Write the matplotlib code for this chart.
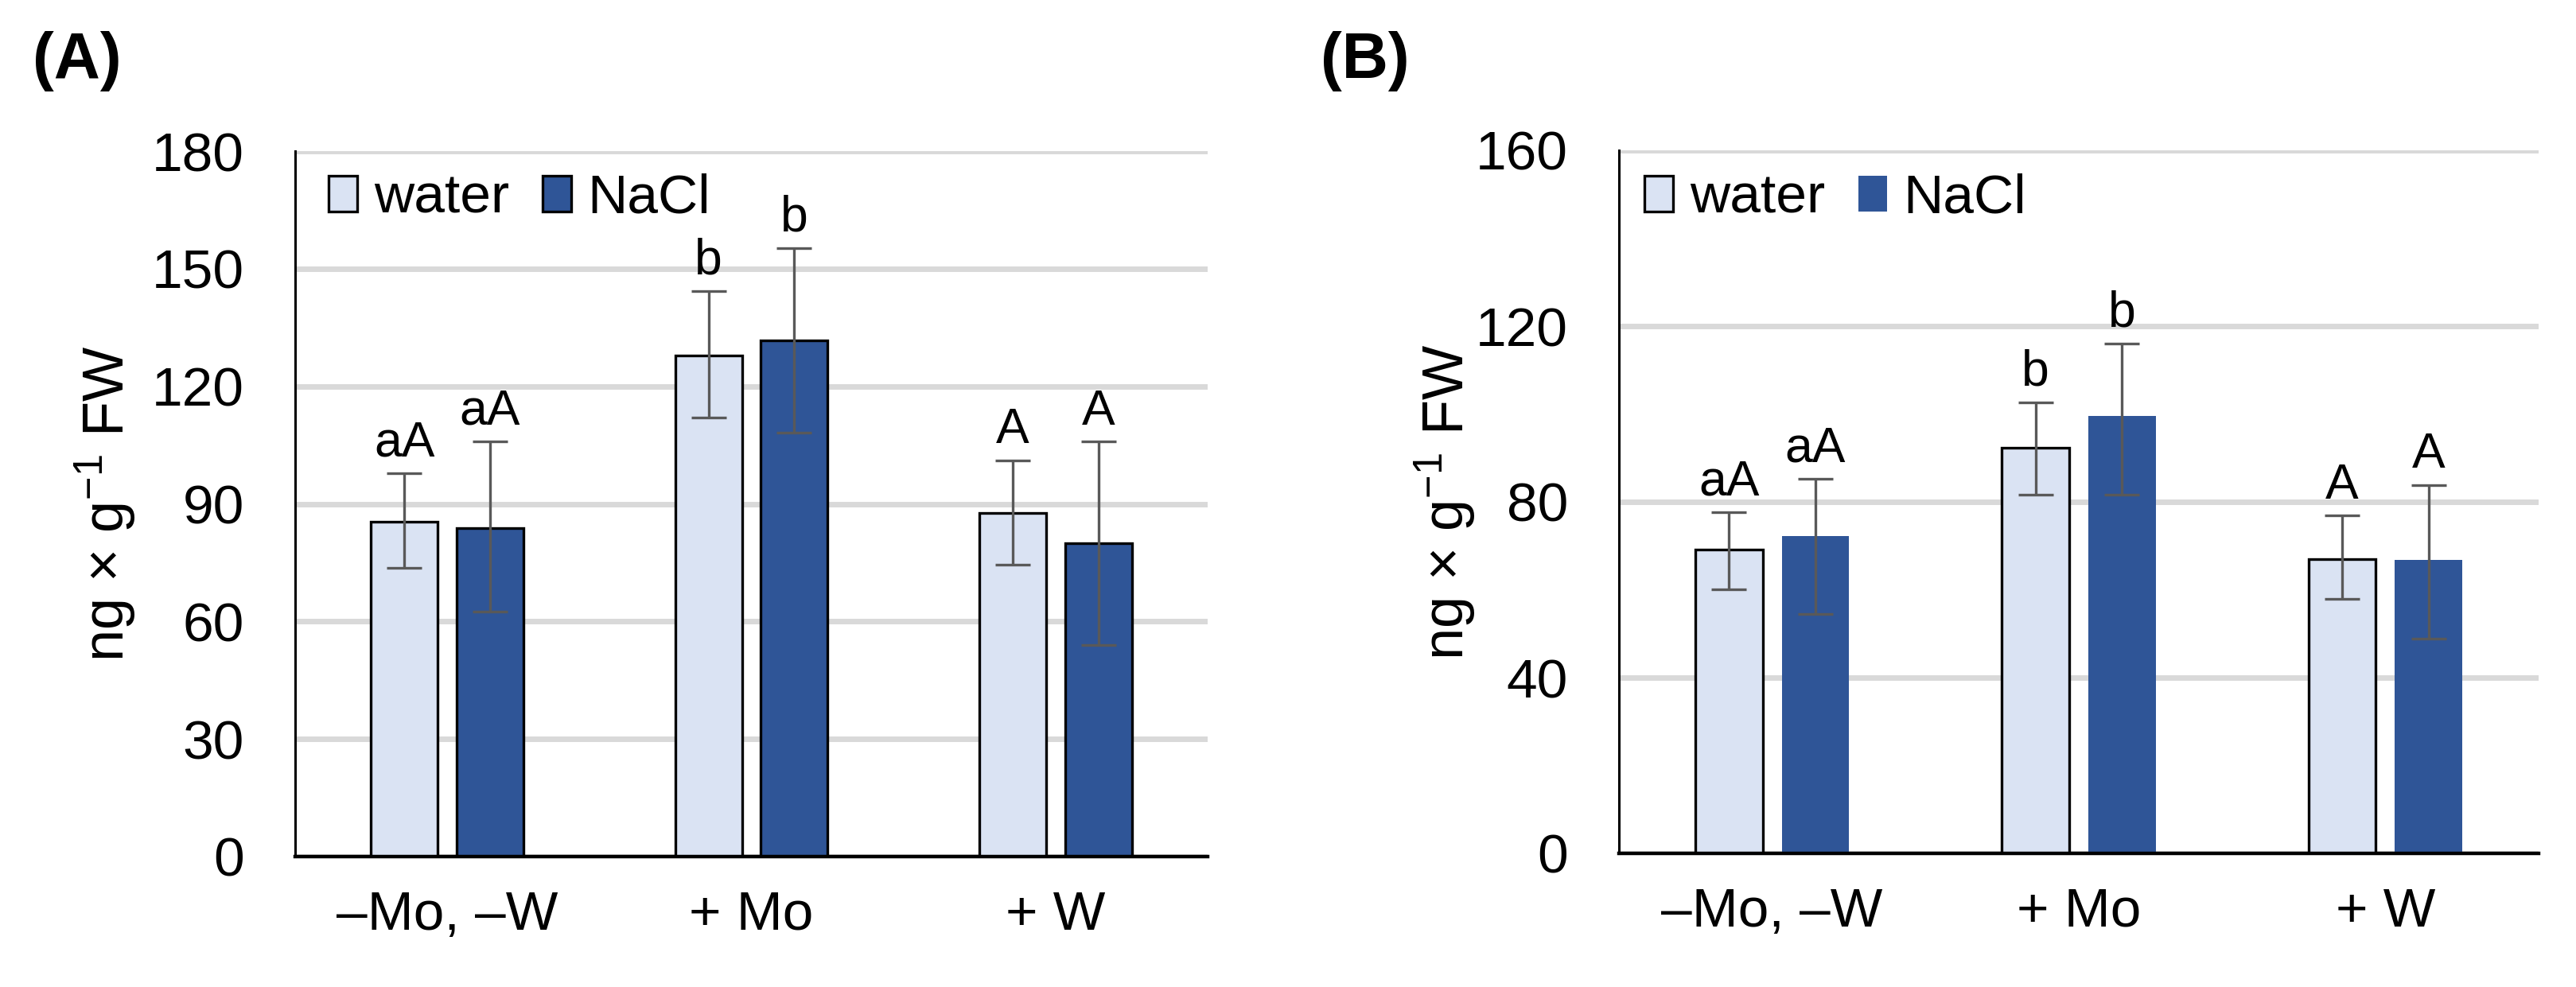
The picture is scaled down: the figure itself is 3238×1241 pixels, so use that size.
import matplotlib
matplotlib.use("Agg")
import matplotlib.pyplot as plt
import numpy as np

plt.rcParams['font.family'] = ['Liberation Sans', 'DejaVu Sans']
plt.rcParams['mathtext.fontset'] = 'custom'
plt.rcParams['mathtext.rm'] = 'Liberation Sans'
plt.rcParams['mathtext.default'] = 'regular'

categories = ["–Mo, –W", "+ Mo", "+ W"]
series = ["water", "NaCl"]

# Panel A
A_water = [85.4, 127.8, 87.7]
A_water_err_lo = [11.8, 15.7, 13.3]
A_water_err_hi = [12.5, 16.4, 13.4]
A_nacl = [83.9, 131.8, 80.0]
A_nacl_err_lo = [21.3, 23.7, 26.1]
A_nacl_err_hi = [22.0, 23.5, 25.9]
A_water_letters = ["aA", "b", "A"]
A_nacl_letters = ["aA", "b", "A"]
A_ticks = [0, 30, 60, 90, 120, 150, 180]

# Panel B
B_water = [69.2, 92.3, 67.0]
B_water_err_lo = [9.1, 10.6, 9.0]
B_water_err_hi = [8.4, 10.4, 9.9]
B_nacl = [72.2, 99.5, 66.7]
B_nacl_err_lo = [17.7, 17.8, 17.9]
B_nacl_err_hi = [13.1, 16.5, 17.1]
B_water_letters = ["aA", "b", "A"]
B_nacl_letters = ["aA", "b", "A"]
B_ticks = [0, 40, 80, 120, 160]

C_WATER = "#DAE3F3"
C_NACL = "#2F5597"
C_ERR = "#595959"
C_GRID = "#D9D9D9"

W, H = 3238, 1241
fig = plt.figure(figsize=(W / 100, H / 100), dpi=100)


def panel(rect, water, wlo, whi, nacl, nlo, nhi, wlet, nlet, ticks, nacl_edge,
          leg_xy, ylab_x, letter, letter_x):
    ax = fig.add_axes(rect)
    x = np.arange(len(categories))
    bw = 0.22
    off = 0.141
    ax.set_axisbelow(True)
    ax.bar(x - off, water, bw, color=C_WATER, edgecolor="black", linewidth=2.4,
           label=series[0], zorder=2)
    if nacl_edge:
        ax.bar(x + off, nacl, bw, color=C_NACL, edgecolor="black", linewidth=2.4,
               label=series[1], zorder=2)
    else:
        ax.bar(x + off, nacl, bw, color=C_NACL, linewidth=0, label=series[1], zorder=2)
    ekw = dict(fmt="none", ecolor=C_ERR, elinewidth=2.4, capsize=15.5, capthick=2.4, zorder=3)
    ax.errorbar(x - off, water, yerr=[wlo, whi], **ekw)
    ax.errorbar(x + off, nacl, yerr=[nlo, nhi], **ekw)
    for xi, v, e, t in zip(x - off, water, whi, wlet):
        ax.annotate(t, (xi, v + e), xytext=(0, 15.5), textcoords="offset points",
                    ha="center", va="baseline", fontsize=45)
    for xi, v, e, t in zip(x + off, nacl, nhi, nlet):
        ax.annotate(t, (xi, v + e), xytext=(0, 15.5), textcoords="offset points",
                    ha="center", va="baseline", fontsize=45)
    ax.set_xlim(-0.5, 2.5)
    ax.set_ylim(ticks[0], ticks[-1])
    ax.set_yticks(ticks)
    ax.set_xticks(x)
    ax.set_xticklabels(categories)
    ax.yaxis.grid(True, color=C_GRID, linewidth=5, zorder=0)
    ax.tick_params(axis="y", length=0, pad=46, labelsize=50)
    ax.tick_params(axis="x", length=0, pad=30, labelsize=50)
    for s in ["top", "right"]:
        ax.spines[s].set_visible(False)
    ax.spines["left"].set_linewidth(2.2)
    ax.spines["bottom"].set_linewidth(3.2)
    ax.spines["bottom"].set_zorder(4)
    ax.set_ylabel("ng × g$^{-1}$ FW", fontsize=52)
    ax.yaxis.set_label_coords(ylab_x, 0.5)
    ax.legend(loc="center left", bbox_to_anchor=leg_xy, frameon=False, fontsize=50,
              handlelength=0.52, handleheight=0.6, handletextpad=0.3, columnspacing=0.6,
              ncol=2, borderpad=0, borderaxespad=0)
    fig.text(letter_x, 1 - 98 / H, letter, fontsize=58, fontweight="bold",
             ha="left", va="baseline")
    return ax


panel([371 / W, (H - 1077) / H, 1147 / W, 887 / H],
      A_water, A_water_err_lo, A_water_err_hi, A_nacl, A_nacl_err_lo, A_nacl_err_hi,
      A_water_letters, A_nacl_letters, A_ticks,
      True, (42 / 1147, 1 - 60 / 887), -0.172, "(A)", 41 / W)
panel([2035 / W, (H - 1073) / H, 1156 / W, 884 / H],
      B_water, B_water_err_lo, B_water_err_hi, B_nacl, B_nacl_err_lo, B_nacl_err_hi,
      B_water_letters, B_nacl_letters, B_ticks,
      False, (32 / 1156, 1 - 61 / 884), -0.153, "(B)", 1660 / W)

fig.savefig("out.png", dpi=100)
